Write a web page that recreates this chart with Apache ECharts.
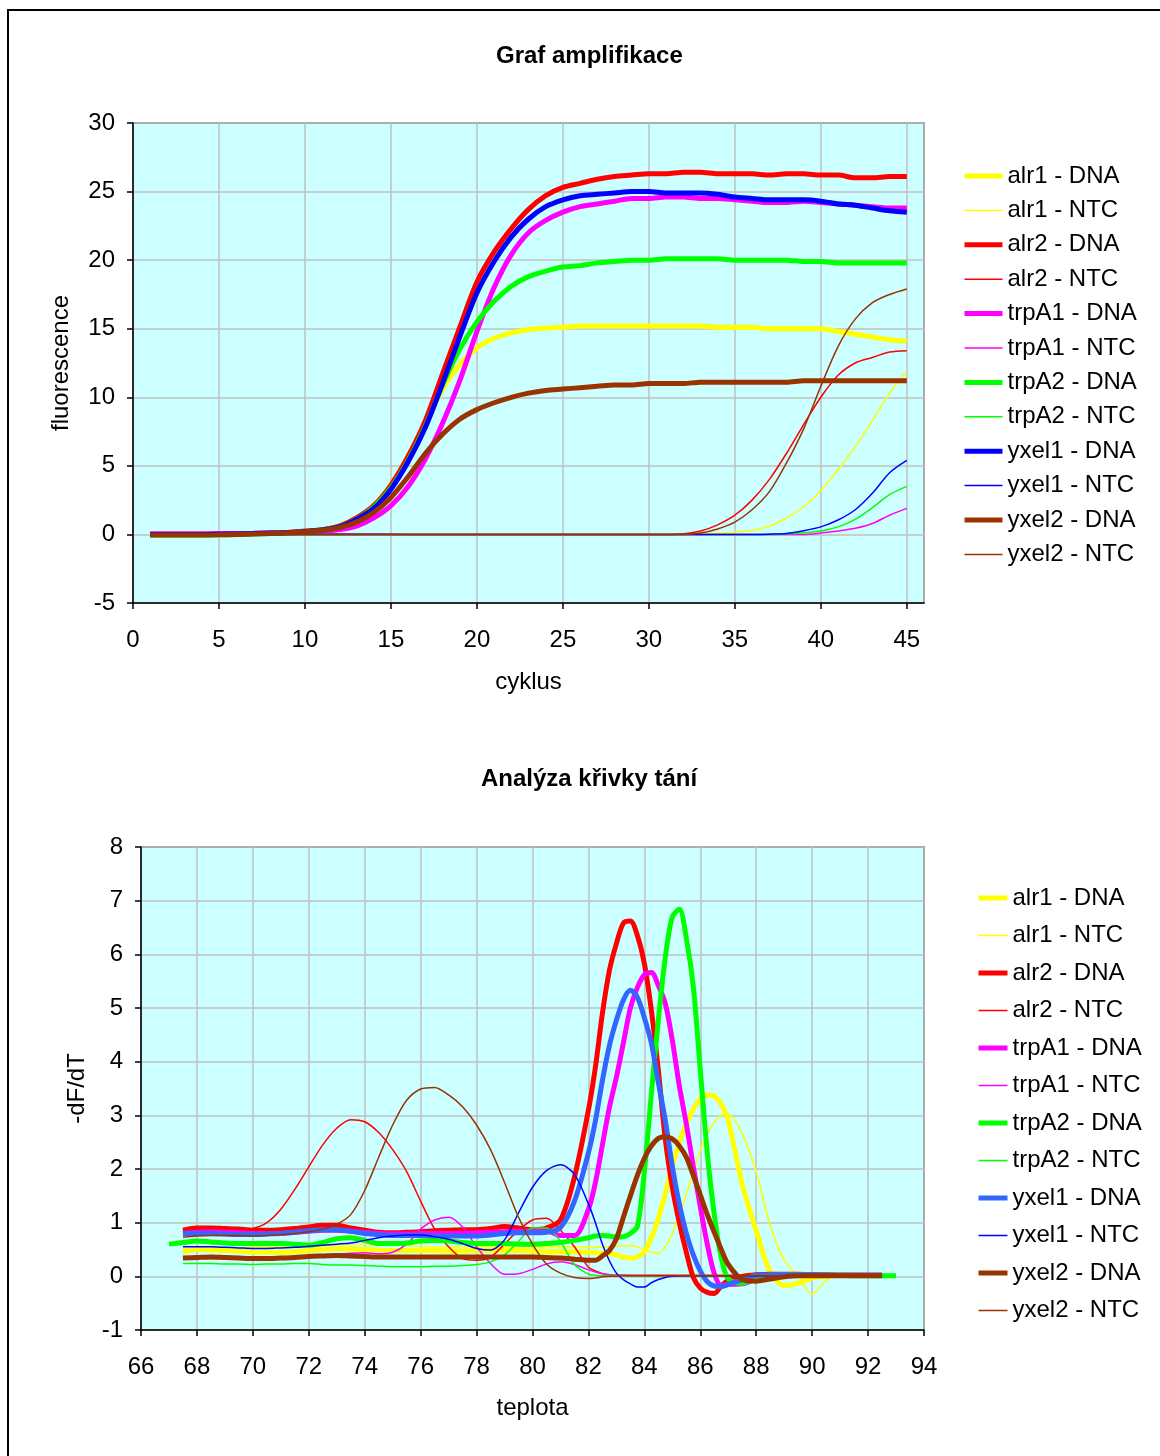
<!DOCTYPE html>
<html>
<head>
<meta charset="utf-8">
<script src="https://cdn.jsdelivr.net/npm/echarts@6/dist/echarts.min.js"></script>
<style>
body { margin: 0; background: #fff; overflow: hidden; }
#frame { position: absolute; left: 7px; top: 9px; width: 1300px; height: 1600px; border: 2px solid #000; }
#amp { position: absolute; left: 0; top: 0; width: 1160px; height: 728px; }
#melt { position: absolute; left: 0; top: 728px; width: 1160px; height: 728px; }
</style>
</head>
<body>
<div id="frame"></div>
<div id="amp"></div>
<div id="melt"></div>
<script>
// ---- graf amplifikace ----
var cycles = [1,2,3,4,5,6,7,8,9,10,11,12,13,14,15,16,17,18,19,20,21,22,23,24,25,26,27,28,29,30,31,32,33,34,35,36,37,38,39,40,41,42,43,44,45];

var alr1Dna = [0,0,0,0,0.02,0.04,0.06,0.1,0.14,0.22,0.35,0.6,1.2,2.1,3.6,5.6,8.0,10.6,12.4,13.6,14.3,14.7,14.95,15.05,15.1,
  15.2,15.2,15.2,15.2,15.2,15.2,15.2,15.2,15.1,15.1,15.1,15.0,15.0,15.0,15.0,14.8,14.6,14.4,14.2,14.1];
var alr1Ntc = [0,0,0,0,0,0,0,0,0,0,0,0,0,0,0,0,0,0,0,0,0,0,0,0,0,0,0,0,0,0,0,
  0.02,0.05,0.08,0.15,0.3,0.6,1.2,2.0,3.2,4.7,6.4,8.3,10.3,11.9];
var alr2Dna = [0,0,0,0,0.02,0.04,0.07,0.1,0.15,0.25,0.35,0.6,1.2,2.1,3.6,5.7,8.3,11.7,15.1,18.4,20.6,22.3,23.7,24.7,25.3,
  25.6,25.9,26.1,26.2,26.3,26.3,26.4,26.4,26.3,26.3,26.3,26.2,26.3,26.3,26.2,26.2,26.0,26.0,26.1,26.1];
var alr2Ntc = [0,0,0,0,0,0,0,0,0,0,0,0,0,0,0,0,0,0,0,0,0,0,0,0,0,0,0,0,0,0,0,
  0.05,0.25,0.7,1.4,2.5,4.0,5.9,8.0,10.0,11.6,12.5,12.9,13.3,13.4];
var trpA1Dna = [0.05,0.05,0.05,0.05,0.06,0.07,0.08,0.1,0.12,0.15,0.22,0.35,0.6,1.2,2.1,3.5,5.5,8.1,11.2,14.8,18.0,20.4,22.0,22.9,23.5,
  23.9,24.1,24.3,24.5,24.5,24.6,24.6,24.5,24.5,24.4,24.3,24.2,24.2,24.3,24.2,24.1,24.0,23.9,23.8,23.8];
var trpA1Ntc = [0.12,0.12,0.11,0.1,0.1,0.1,0.09,0.08,0.08,0.07,0.06,0.05,0.04,0.03,0.02,
  0,0,0,0,0,0,0,0,0,0,0,0,0,0,0,0,0,0,0,0,0,0,0,0,
  0.1,0.25,0.45,0.8,1.4,1.9];
var trpA2Dna = [-0.05,-0.05,-0.05,-0.04,-0.03,0,0.03,0.07,0.12,0.2,0.32,0.55,1.1,2.0,3.4,5.4,7.9,10.9,13.5,15.5,17.0,18.1,18.8,19.2,19.5,
  19.6,19.8,19.9,20.0,20.0,20.1,20.1,20.1,20.1,20.0,20.0,20.0,20.0,19.9,19.9,19.8,19.8,19.8,19.8,19.8];
var trpA2Ntc = [0,0,0,0,0,0,0,0,0,0,0,0,0,0,0,0,0,0,0,0,0,0,0,0,0,0,0,0,0,0,0,0,0,0,0,0,0,
  0.05,0.12,0.25,0.55,1.1,1.95,2.9,3.5];
var yxel1Dna = [0,0,0,0,0.02,0.04,0.06,0.1,0.14,0.22,0.32,0.55,1.1,1.9,3.3,5.3,7.8,11.0,14.4,17.6,19.9,21.7,23.0,23.9,24.4,
  24.7,24.8,24.9,25.0,25.0,24.9,24.9,24.9,24.8,24.6,24.5,24.4,24.4,24.4,24.3,24.1,24.0,23.8,23.6,23.5];
var yxel1Ntc = [0,0,0,0,0,0,0,0,0,0,0,0,0,0,0,0,0,0,0,0,0,0,0,0,0,0,0,0,0,0,0,0,0,0,0,0,
  0.02,0.07,0.27,0.55,1.05,1.8,3.0,4.5,5.4];
var yxel2Dna = [-0.05,-0.05,-0.05,-0.04,-0.03,0,0.03,0.07,0.12,0.2,0.3,0.5,0.9,1.6,2.7,4.2,5.9,7.3,8.4,9.1,9.6,10.0,10.3,10.5,10.6,
  10.7,10.8,10.9,10.9,11.0,11.0,11.0,11.1,11.1,11.1,11.1,11.1,11.1,11.2,11.2,11.2,11.2,11.2,11.2,11.2];
var yxel2Ntc = [0,0,0,0,0,0,0,0,0,0,0,0,0,0,0,0,0,0,0,0,0,0,0,0,0,0,0,0,0,0,0,0,
  0.1,0.4,0.9,1.8,3.1,5.2,7.7,10.8,13.7,15.7,16.9,17.5,17.9];

// ---- analyza krivky tani ----
var temps = [67,67.5,68,68.5,69,69.5,70,70.5,71,71.5,72,72.5,73,73.5,74,74.5,75,75.5,76,76.5,77,77.5,78,78.5,79,79.5,80,80.5,81,81.5,82,
  82.25,82.5,82.75,83,83.25,83.5,83.75,84,84.25,84.5,84.75,85,85.25,85.5,85.75,86,86.25,86.5,86.75,87,
  87.5,88,88.5,89,89.5,90,90.5,91,91.5,92,92.5,93];

var mAlr1Dna = [null,0.45,0.5,0.49,0.48,0.47,0.45,0.45,0.45,0.46,0.48,0.5,0.52,0.51,0.5,0.49,0.48,0.48,0.48,0.48,0.47,0.47,0.48,0.48,0.48,0.48,0.47,0.46,0.46,0.46,0.45,
  0.44,0.43,0.42,0.40,0.36,0.34,0.36,0.46,0.72,1.08,1.55,2.05,2.5,2.84,3.12,3.3,3.38,3.36,3.2,2.9,
  1.72,0.85,0.08,-0.17,-0.13,-0.03,0,0.03,0.03,0.02,0.02,null];
var mAlr1Ntc = [null,0.52,0.53,0.53,0.53,0.53,0.54,0.54,0.55,0.55,0.55,0.57,0.59,0.6,0.6,0.59,0.58,0.57,0.56,0.55,0.55,0.55,0.55,0.55,0.55,0.55,0.55,0.55,0.55,0.55,0.54,
  0.54,0.54,0.55,0.56,0.57,0.57,0.55,0.5,0.45,0.43,0.55,0.8,1.15,1.54,1.95,2.35,2.65,2.88,3.0,3.02,
  2.66,1.95,0.95,0.3,0,-0.33,-0.08,0.03,0.02,0.02,0.02,null];
var mAlr2Dna = [null,0.86,0.9,0.9,0.89,0.88,0.86,0.86,0.87,0.89,0.92,0.95,0.95,0.9,0.86,0.82,0.81,0.82,0.83,0.85,0.86,0.87,0.87,0.89,0.93,0.9,0.87,0.9,1.05,1.85,3.1,
  3.9,4.9,5.7,6.2,6.58,6.62,6.35,5.83,4.96,3.84,2.55,1.66,1.0,0.45,-0.02,-0.22,-0.3,-0.32,-0.18,-0.08,
  0,0.03,0.04,0.04,0.04,0.03,0.03,0.02,0.02,0.02,0.02,null];
var mAlr2Ntc = [null,0.85,0.86,0.86,0.86,0.86,0.89,1.0,1.25,1.62,2.04,2.45,2.76,2.92,2.88,2.68,2.36,1.95,1.4,0.88,0.55,0.33,0.3,0.36,0.6,0.86,1.05,1.08,0.86,0.55,0.17,
  0.1,0.05,0.03,0.02,0.02,0.02,0.02,0.02,0.02,0.02,0.02,0.02,0.02,0.02,0.02,0.02,0.02,0.02,0.02,0.02,
  0.02,0.02,0.02,0.02,0.02,0.02,0.02,0.02,0.02,0.02,0.02,null];
var mTrpA1Dna = [null,0.8,0.82,0.83,0.82,0.81,0.8,0.8,0.8,0.82,0.84,0.86,0.86,0.84,0.82,0.8,0.79,0.79,0.8,0.8,0.8,0.8,0.81,0.82,0.83,0.84,0.84,0.85,0.76,0.76,1.25,
  1.75,2.45,3.15,3.71,4.35,5.0,5.38,5.62,5.66,5.42,5.08,4.4,3.55,2.84,2.05,1.3,0.6,0.05,-0.17,-0.15,
  -0.14,-0.05,0,0.02,0.02,0.02,0.02,0.02,0.02,0.02,0.02,null];
var mTrpA1Ntc = [null,0.35,0.34,0.33,0.33,0.33,0.33,0.34,0.35,0.36,0.37,0.39,0.41,0.43,0.44,0.42,0.45,0.6,0.88,1.05,1.1,0.92,0.55,0.24,0.04,0.05,0.13,0.23,0.27,0.22,0.12,
  0.08,0.05,0.03,0.02,0.02,0.01,0.01,0.01,0.01,0.01,0.01,0.01,0.01,0.01,0.01,0.01,0.01,0.01,0.01,0.01,
  0.01,0.01,0.01,0.01,0.01,0.01,0.01,0.01,0.01,0.01,0.01,null];
var mTrpA2Dna = [0.6,0.63,0.66,0.64,0.62,0.61,0.61,0.61,0.61,0.6,0.58,0.63,0.7,0.72,0.67,0.61,0.61,0.62,0.66,0.67,0.66,0.63,0.61,0.61,0.61,0.6,0.6,0.61,0.63,0.67,0.72,
  0.75,0.76,0.75,0.73,0.74,0.8,0.93,1.95,3.4,4.77,5.95,6.7,6.84,6.3,5.4,3.85,2.3,1.15,0.35,-0.05,
  -0.13,0,0.02,0.03,0.03,0.02,0.02,0.02,0.01,0.01,0.01,0.01];
var mTrpA2Ntc = [null,0.24,0.24,0.24,0.23,0.23,0.22,0.23,0.23,0.24,0.24,0.22,0.21,0.21,0.2,0.19,0.18,0.18,0.18,0.19,0.19,0.2,0.22,0.27,0.4,0.65,0.9,0.9,0.65,0.22,0.04,
  0.02,0.01,0.01,0.01,0.01,0.01,0.01,0.01,0.01,0.01,0.01,0.01,0.01,0.01,0.01,0.01,0.01,0.01,0.01,0.01,
  0.01,0.01,0.01,0.01,0.01,0.01,0.01,0.01,0.01,0.01,0.01,null];
var mYxel1Dna = [null,0.8,0.8,0.8,0.79,0.78,0.78,0.79,0.8,0.82,0.85,0.87,0.87,0.84,0.8,0.78,0.76,0.76,0.76,0.75,0.75,0.75,0.75,0.77,0.8,0.81,0.81,0.82,0.91,1.4,2.3,
  2.9,3.65,4.3,4.77,5.15,5.33,5.2,4.82,4.35,3.61,2.9,2.05,1.35,0.8,0.4,0.1,-0.1,-0.18,-0.19,-0.15,
  -0.06,0.02,0.03,0.03,0.03,0.03,0.02,0.02,0.02,0.02,0.02,null];
var mYxel1Ntc = [null,0.55,0.55,0.55,0.54,0.53,0.52,0.52,0.53,0.54,0.56,0.58,0.6,0.62,0.67,0.72,0.75,0.77,0.77,0.74,0.69,0.61,0.52,0.49,0.68,1.18,1.66,1.97,2.08,1.9,1.35,
  1.0,0.6,0.29,0.06,-0.06,-0.14,-0.2,-0.2,-0.12,-0.06,-0.02,0,0.01,0.01,0.01,0.01,0.01,0.01,0.01,0.01,
  0.01,0.01,0.01,0.01,0.01,0.01,0.01,0.01,0.01,0.01,0.01,null];
var mYxel2Dna = [null,0.34,0.35,0.36,0.35,0.34,0.33,0.33,0.34,0.35,0.37,0.38,0.39,0.38,0.37,0.36,0.36,0.36,0.36,0.36,0.36,0.36,0.36,0.36,0.36,0.36,0.36,0.35,0.34,0.32,0.3,
  0.3,0.38,0.48,0.7,1.1,1.5,1.88,2.2,2.43,2.57,2.6,2.56,2.43,2.22,1.88,1.52,1.15,0.82,0.5,0.22,
  -0.06,-0.09,-0.05,-0.01,0.01,0.01,0.01,0.01,0.01,0.01,0.01,null];
var mYxel2Ntc = [null,0.73,0.75,0.76,0.76,0.76,0.75,0.76,0.78,0.8,0.83,0.88,0.97,1.15,1.6,2.22,2.82,3.28,3.49,3.52,3.38,3.16,2.82,2.36,1.75,1.1,0.6,0.23,0.06,-0.02,-0.04,
  -0.03,-0.01,0,0,0.01,0.01,0.01,0.01,0.01,0.01,0.01,0.01,0.01,0.01,0.01,0.01,0.01,0.01,0.01,0.01,
  0.01,0.01,0.01,0.01,0.01,0.01,0.01,0.01,0.01,0.01,0.01,null];

var FONT = '"Liberation Sans", Arial, sans-serif';
var THICK = 5, THIN = 1.5;

function pairs(xs, ys) {
  var out = [];
  for (var i = 0; i < xs.length; i++) {
    if (ys[i] !== null) out.push([xs[i], ys[i]]);
  }
  return out;
}

function line(name, color, width, xs, ys) {
  return {
    name: name, type: 'line', data: pairs(xs, ys),
    smooth: 0.3, symbol: 'none', showSymbol: false,
    lineStyle: { color: color, width: width }, itemStyle: { color: color },
    emphasis: { disabled: true }
  };
}

function axisX(min, max, interval, name, gap, margin) {
  return {
    type: 'value', min: min, max: max, interval: interval,
    name: name, nameLocation: 'middle', nameGap: gap,
    nameTextStyle: { fontFamily: FONT, fontSize: 24, color: '#000' },
    axisLine: { onZero: false, lineStyle: { color: '#000', width: 1.5 } },
    axisTick: { show: true, length: 6, lineStyle: { color: '#000', width: 1.5 } },
    axisLabel: { showMaxLabel: max % interval === 0, fontFamily: FONT, fontSize: 24, color: '#000', margin: margin },
    splitLine: { show: true, lineStyle: { color: '#c0c0c0', width: 1.5 } }
  };
}

function axisY(min, max, interval, name, gap) {
  return {
    type: 'value', min: min, max: max, interval: interval,
    name: name, nameLocation: 'middle', nameGap: gap,
    nameTextStyle: { fontFamily: FONT, fontSize: 24, color: '#000' },
    axisLine: { show: true, onZero: false, lineStyle: { color: '#000', width: 1.5 } },
    axisTick: { show: true, length: 6, lineStyle: { color: '#000', width: 1.5 } },
    axisLabel: { fontFamily: FONT, fontSize: 24, color: '#000', margin: 18 },
    splitLine: { show: true, lineStyle: { color: '#c0c0c0', width: 1.5 } }
  };
}

function legend(left, top, itemWidth, gap) {
  return {
    orient: 'vertical', left: left, top: top, padding: 0,
    itemWidth: itemWidth, itemHeight: 24, itemGap: gap,
    selectedMode: false,
    itemStyle: { opacity: 0 },
    lineStyle: { width: 'inherit' },
    textStyle: { fontFamily: FONT, fontSize: 24, lineHeight: 24, color: '#000' }
  };
}

var ampChart = echarts.init(document.getElementById('amp'));
ampChart.setOption({
  animation: false,
  title: { text: 'Graf amplifikace', left: 496, top: 44, padding: 0,
    textStyle: { fontFamily: FONT, fontSize: 24, fontWeight: 'bold', color: '#000' } },
  legend: legend(962, 164, 38, 10.4),
  grid: { left: 133, top: 123, width: 791, height: 480, show: true,
    backgroundColor: '#ccffff', borderColor: '#444', borderWidth: 1.5 },
  xAxis: axisX(0, 46, 5, 'cyklus', 67, 25),
  yAxis: axisY(-5, 30, 5, 'fluorescence', 60),
  series: [
    line('alr1 - DNA', '#ffff00', THICK, cycles, alr1Dna),
    line('alr1 - NTC', '#ffff00', THIN, cycles, alr1Ntc),
    line('alr2 - DNA', '#ff0000', THICK, cycles, alr2Dna),
    line('alr2 - NTC', '#ff0000', THIN, cycles, alr2Ntc),
    line('trpA1 - DNA', '#ff00ff', THICK, cycles, trpA1Dna),
    line('trpA1 - NTC', '#ff00ff', THIN, cycles, trpA1Ntc),
    line('trpA2 - DNA', '#00ff00', THICK, cycles, trpA2Dna),
    line('trpA2 - NTC', '#00ff00', THIN, cycles, trpA2Ntc),
    line('yxel1 - DNA', '#0000ff', THICK, cycles, yxel1Dna),
    line('yxel1 - NTC', '#0000ff', THIN, cycles, yxel1Ntc),
    line('yxel2 - DNA', '#993300', THICK, cycles, yxel2Dna),
    line('yxel2 - NTC', '#993300', THIN, cycles, yxel2Ntc)
  ]
});

var meltChart = echarts.init(document.getElementById('melt'));
meltChart.setOption({
  animation: false,
  title: { text: 'Analýza křivky tání', left: 481, top: 39, padding: 0,
    textStyle: { fontFamily: FONT, fontSize: 24, fontWeight: 'bold', color: '#000' } },
  legend: legend(976, 158, 29, 13.5),
  grid: { left: 141, top: 119, width: 783, height: 483, show: true,
    backgroundColor: '#ccffff', borderColor: '#444', borderWidth: 1.5 },
  xAxis: axisX(66, 94, 2, 'teplota', 66, 25),
  yAxis: axisY(-1, 8, 1, '-dF/dT', 52),
  series: [
    line('alr1 - DNA', '#ffff00', THICK, temps, mAlr1Dna),
    line('alr1 - NTC', '#ffff00', THIN, temps, mAlr1Ntc),
    line('alr2 - DNA', '#ff0000', THICK, temps, mAlr2Dna),
    line('alr2 - NTC', '#ff0000', THIN, temps, mAlr2Ntc),
    line('trpA1 - DNA', '#ff00ff', THICK, temps, mTrpA1Dna),
    line('trpA1 - NTC', '#ff00ff', THIN, temps, mTrpA1Ntc),
    line('trpA2 - DNA', '#00ff00', THICK, temps, mTrpA2Dna),
    line('trpA2 - NTC', '#00ff00', THIN, temps, mTrpA2Ntc),
    line('yxel1 - DNA', '#3366ff', THICK, temps, mYxel1Dna),
    line('yxel1 - NTC', '#0000ff', THIN, temps, mYxel1Ntc),
    line('yxel2 - DNA', '#993300', THICK, temps, mYxel2Dna),
    line('yxel2 - NTC', '#993300', THIN, temps, mYxel2Ntc)
  ]
});
</script>
</body>
</html>
